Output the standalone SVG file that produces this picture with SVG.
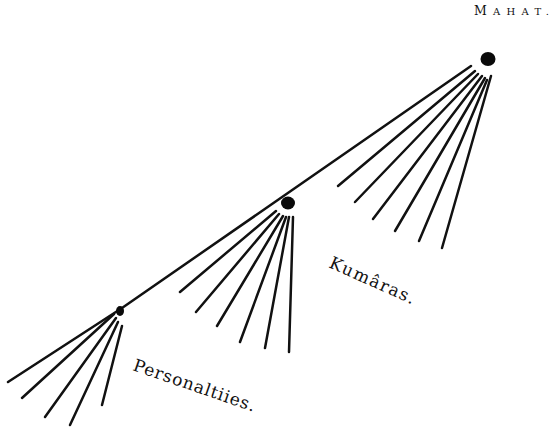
<svg xmlns="http://www.w3.org/2000/svg" width="552" height="428" viewBox="0 0 552 428">
<style>
.ln{stroke:#111;stroke-width:2.5;stroke-linecap:round;fill:none}
.dot{fill:#0a0a0a}
.lbl{font-family:"DejaVu Serif","Liberation Serif",serif;fill:#111}
</style>
<rect width="552" height="428" fill="#fff"/>
<g id="connectors">
<polyline class="ln" points="471,66 285,195 122,308 8,382"/>
<line class="ln" x1="475" y1="71" x2="338" y2="186"/>
<line class="ln" x1="478" y1="74" x2="355" y2="202"/>
<line class="ln" x1="482" y1="76" x2="373" y2="219"/>
<line class="ln" x1="485" y1="78" x2="395" y2="231"/>
<line class="ln" x1="487" y1="80" x2="419" y2="241"/>
<line class="ln" x1="491" y1="76" x2="442" y2="248"/>
<line class="ln" x1="276" y1="211" x2="180" y2="292"/>
<line class="ln" x1="279" y1="214" x2="196" y2="312"/>
<line class="ln" x1="283" y1="216" x2="217" y2="326"/>
<line class="ln" x1="286" y1="217" x2="240" y2="342"/>
<line class="ln" x1="289" y1="217" x2="265" y2="348"/>
<line class="ln" x1="293" y1="217" x2="289" y2="352"/>
<line class="ln" x1="114" y1="314" x2="22" y2="398"/>
<line class="ln" x1="116" y1="318" x2="45" y2="417"/>
<line class="ln" x1="118" y1="322" x2="70" y2="425"/>
<line class="ln" x1="122" y1="326" x2="102" y2="405"/>
</g>
<g id="mahat">
<ellipse class="dot" cx="488" cy="59" rx="7.5" ry="7"/>
<text class="lbl" x="474" y="15" font-size="12.5" textLength="75" lengthAdjust="spacing">M<tspan font-size="10">AHAT.</tspan></text>
</g>
<g id="kumaras">
<ellipse class="dot" cx="288" cy="203" rx="7" ry="6.5"/>
<text class="lbl" font-size="17" transform="translate(328,267) rotate(24)" textLength="92" lengthAdjust="spacing">Kumâras.</text>
</g>
<g id="personalities">
<ellipse class="dot" cx="120" cy="311" rx="4" ry="5"/>
<text class="lbl" font-size="17" transform="translate(132,370) rotate(19)" textLength="128" lengthAdjust="spacing">Personaltiies.</text>
</g>
</svg>
